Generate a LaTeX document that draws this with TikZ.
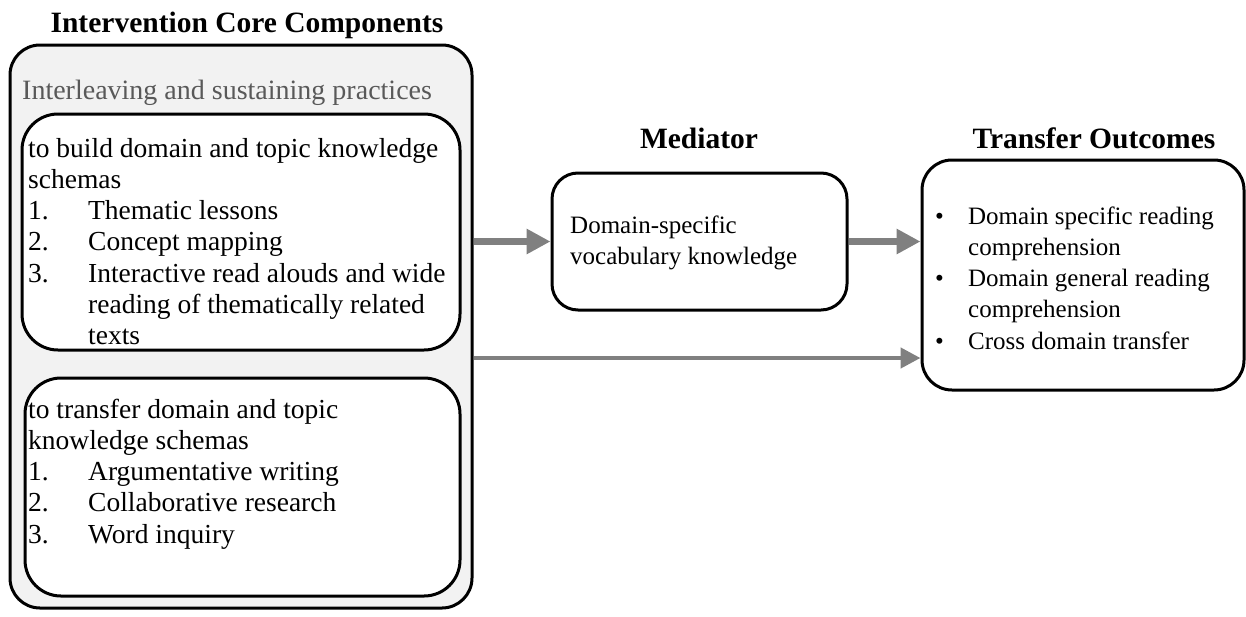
\documentclass[tikz,border=0pt]{standalone}
\usepackage{fontspec}
\setmainfont{Liberation Serif}
\usetikzlibrary{arrows.meta}
\definecolor{boxgray}{HTML}{F2F2F2}
\definecolor{arrgray}{HTML}{808080}
\definecolor{txtgray}{HTML}{595959}
\begin{document}
\begin{tikzpicture}[x=1pt,y=-1pt,
  box/.style={draw=black,line width=3pt,rounded corners=30pt,inner sep=0pt},
  title/.style={font=\fontsize{29.5}{34}\selectfont\bfseries,anchor=base,inner sep=0pt},
  body/.style={font=\fontsize{27.5}{31.3}\selectfont,anchor=base west,inner sep=0pt},
  smallbody/.style={body,font=\fontsize{25}{31.5}\selectfont},
  bigarrow/.style={draw=arrgray,line width=7.5pt,-{Triangle[length=24pt,width=24pt]}},
  thinarrow/.style={draw=arrgray,line width=4.5pt,-{Triangle[length=20pt,width=20pt]}}
]
\useasboundingbox (0,0) rectangle (1246,616);
% titles
\node[title] (t1) at (247,32) {Intervention Core Components};
\node[title] (t2) at (699,148) {Mediator};
\node[title] (t3) at (1094,148) {Transfer Outcomes};
% outer box
\node[box,fill=boxgray,minimum width=462pt,minimum height=563pt] (outer) at (241,326.5) {};
\node[body,text=txtgray,font=\fontsize{28}{31}\selectfont] (inter) at (22,99) {Interleaving and sustaining practices};
% inner box 1
\node[box,fill=white,rounded corners=36pt,minimum width=438pt,minimum height=236pt] (b1) at (241,232) {};
\newcommand{\numit}[2]{\makebox[60pt][l]{#1}#2}
\newcommand{\contit}[1]{\hspace*{60pt}#1}
\node[body] (b1t) at (28,157) {\parbox[t]{440pt}{to build domain and topic knowledge\\
schemas\\
\numit{1.}{Thematic lessons}\\
\numit{2.}{Concept mapping}\\
\numit{3.}{Interactive read alouds and wide}\\
\contit{reading of thematically related}\\
\contit{texts}}};
% inner box 2
\node[box,fill=white,rounded corners=36pt,minimum width=435pt,minimum height=218pt] (b2) at (242.5,487) {};
\node[body] (b2t) at (28,418) {\parbox[t]{420pt}{to transfer domain and topic\\
knowledge schemas\\
\numit{1.}{Argumentative writing}\\
\numit{2.}{Collaborative research}\\
\numit{3.}{Word inquiry}}};
% mediator
\node[box,fill=white,rounded corners=26pt,minimum width=295pt,minimum height=137pt] (med) at (699.5,241.5) {};
\node[smallbody] (medt) at (570,233) {\parbox[t]{270pt}{Domain-specific\\vocabulary knowledge}};
% transfer
\node[box,fill=white,rounded corners=30pt,minimum width=322pt,minimum height=230pt] (tr) at (1083,275) {};
\node[smallbody,font=\fontsize{25}{31.3}\selectfont] (trt) at (935,224) {\parbox[t]{300pt}{\makebox[33pt][l]{\textbullet}Domain specific reading\\
\hspace*{33pt}comprehension\\
\makebox[33pt][l]{\textbullet}Domain general reading\\
\hspace*{33pt}comprehension\\
\makebox[33pt][l]{\textbullet}Cross domain transfer}};
% arrows
\coordinate (c3) at (0,358);
\draw[bigarrow] (outer.east |- med.west) -- (med.west);
\draw[bigarrow] (med.east) -- (tr.west |- med.east);
\draw[thinarrow] (outer.east |- c3) -- (tr.west |- c3);
\end{tikzpicture}
\end{document}
